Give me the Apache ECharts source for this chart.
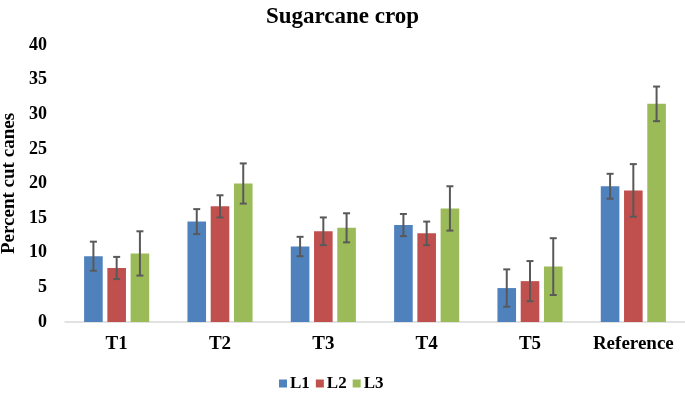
<!DOCTYPE html>
<html>
<head>
<meta charset="utf-8">
<script src="https://cdn.jsdelivr.net/npm/echarts@6/dist/echarts.min.js"></script>
<style>
  html, body { margin: 0; padding: 0; background: #fff; }
  #chart { width: 685px; height: 393px; }
</style>
</head>
<body>
<div id="chart"></div>
<script>
// treatments on the x axis
var categories = ["T1", "T2", "T3", "T4", "T5", "Reference"];
var seriesNames = ["L1", "L2", "L3"];

// mean percent cut canes
var l1Values = [9.5, 14.5, 10.9, 14.0, 4.9, 19.6];
var l2Values = [7.8, 16.7, 13.1, 12.8, 5.9, 19.0];
var l3Values = [9.9, 20.0, 13.6, 16.4, 8.0, 31.5];

// error (+/-)
var l1Errors = [2.1, 1.8, 1.4, 1.6, 2.7, 1.8];
var l2Errors = [1.6, 1.6, 2.0, 1.7, 2.9, 3.8];
var l3Errors = [3.2, 2.9, 2.1, 3.2, 4.1, 2.5];

var colors = ["#4F81BD", "#C0504D", "#9BBB59"];
var font = "'Liberation Serif', 'Times New Roman', serif";

var BAR_W = 0.18;   // fraction of band
var BAR_GAP = 0.25; // fraction of bar width

function errorSeries(idx, values, errors) {
  var data = values.map(function (v, i) {
    return [i, v - errors[i], v + errors[i]];
  });
  return {
    type: "custom",
    name: seriesNames[idx] + " err",
    z: 10,
    silent: true,
    renderItem: function (params, api) {
      var band = api.size([1, 0])[0];
      var bw = band * BAR_W;
      var off = (idx - 1) * (bw * (1 + BAR_GAP));
      var lo = api.coord([api.value(0), api.value(1)]);
      var hi = api.coord([api.value(0), api.value(2)]);
      var x = lo[0] + off;
      var cap = 3.5;
      var style = { stroke: "#595959", lineWidth: 2, fill: null };
      return {
        type: "group",
        children: [
          { type: "line", shape: { x1: x, y1: hi[1], x2: x, y2: lo[1] }, style: style },
          { type: "line", shape: { x1: x - cap, y1: hi[1], x2: x + cap, y2: hi[1] }, style: style },
          { type: "line", shape: { x1: x - cap, y1: lo[1], x2: x + cap, y2: lo[1] }, style: style }
        ]
      };
    },
    data: data
  };
}

var chart = echarts.init(document.getElementById("chart"));
chart.setOption({
  animation: false,
  title: {
    text: "Sugarcane crop",
    left: "center",
    top: 1,
    textStyle: { fontFamily: font, fontWeight: "bold", fontSize: 23, color: "#000" }
  },
  legend: {
    data: seriesNames,
    top: 370,
    left: 274,
    itemWidth: 8,
    itemHeight: 8,
    itemGap: 6,
    icon: "rect",
    textStyle: { fontFamily: font, fontWeight: "bold", fontSize: 17, color: "#000", padding: [0, 0, 0, -2] }
  },
  grid: { left: 65, right: 0, top: 45, bottom: 71, containLabel: false, outerBoundsMode: "none" },
  xAxis: {
    type: "category",
    data: categories,
    axisLine: { lineStyle: { color: "#d9d9d9", width: 1.5 } },
    axisTick: { show: false },
    axisLabel: { interval: 0, fontFamily: font, fontWeight: "bold", fontSize: 19, color: "#000", margin: 13 }
  },
  yAxis: {
    type: "value",
    min: 0,
    max: 40,
    interval: 5,
    name: "Percent cut canes",
    nameLocation: "middle",
    nameGap: 42,
    nameTextStyle: { fontFamily: font, fontWeight: "bold", fontSize: 19, color: "#000" },
    axisLine: { show: false },
    axisTick: { show: false },
    splitLine: { show: false },
    axisLabel: { fontFamily: font, fontWeight: "bold", fontSize: 18, color: "#000", margin: 18 }
  },
  series: [
    { name: "L1", type: "bar", data: l1Values, barWidth: "18%", barGap: "25%",
      itemStyle: { color: colors[0] } },
    { name: "L2", type: "bar", data: l2Values, barWidth: "18%", barGap: "25%",
      itemStyle: { color: colors[1] } },
    { name: "L3", type: "bar", data: l3Values, barWidth: "18%", barGap: "25%",
      itemStyle: { color: colors[2] } },
    errorSeries(0, l1Values, l1Errors),
    errorSeries(1, l2Values, l2Errors),
    errorSeries(2, l3Values, l3Errors)
  ]
});
</script>
</body>
</html>
